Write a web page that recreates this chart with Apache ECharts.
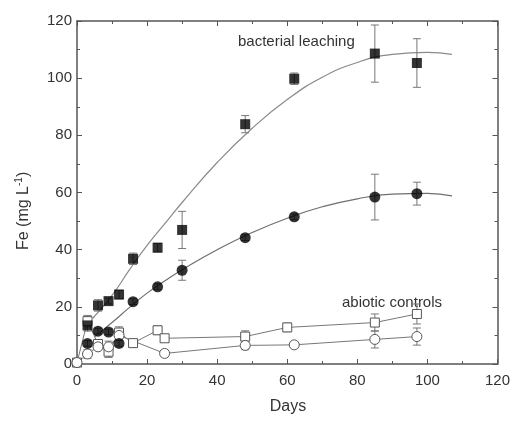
<!DOCTYPE html>
<html>
<head>
<meta charset="utf-8">
<script src="https://cdn.jsdelivr.net/npm/echarts@6/dist/echarts.min.js"></script>
<style>
html,body{margin:0;padding:0;background:#fff;}
#c{width:513px;height:421px;}
</style>
</head>
<body>
<div id="c"></div>
<script>
// ---- data ----
const xTicks = [0, 20, 40, 60, 80, 100, 120];
const yTicks = [0, 20, 40, 60, 80, 100, 120];

// bacterial leaching, filled squares
const bSqDays = [3, 6, 9, 12, 16, 23, 30, 48, 62, 85, 97];
const bSqFe   = [13.5, 20.5, 22, 24.3, 36.8, 40.7, 46.9, 83.9, 99.8, 108.6, 105.3];
const bSqErr  = [2, 2, 1, 1.5, 2, 1.5, 6.5, 3, 2, 10, 8.5];

// bacterial leaching, filled circles
const bCiDays = [3, 6, 9, 12, 16, 23, 30, 48, 62, 85, 97];
const bCiFe   = [7.2, 11.5, 11.2, 7.2, 21.8, 27, 32.8, 44.2, 51.5, 58.4, 59.6];
const bCiErr  = [1, 1, 1, 1, 1, 1, 3.5, 1, 1, 8, 4];

// abiotic controls, open squares
const aSqDays = [0, 3, 6, 9, 12, 16, 23, 25, 48, 60, 85, 97];
const aSqFe   = [0.5, 15, 7, 4.3, 11, 7.3, 11.8, 9, 9.6, 12.8, 14.5, 17.5];
const aSqErr  = [0, 2, 1, 2, 2, 1, 1.5, 1, 2, 1.5, 3, 3.5];

// abiotic controls, open circles
const aCiDays = [0, 3, 6, 9, 12, 25, 48, 62, 85, 97];
const aCiFe   = [0.5, 3.5, 6, 6, 10, 3.7, 6.5, 6.7, 8.6, 9.6];
const aCiErr  = [0, 1.5, 1, 2, 1, 1, 1.5, 1, 3, 3];

// fitted curves
const fitSqDays = [4.5, 10, 15, 20, 25, 30, 40, 50, 60, 70, 80, 90, 100, 107];
const fitSqFe   = [16, 24, 33, 41.5, 49, 56.5, 70.5, 82.5, 92.5, 100.3, 105.5, 108.3, 109, 108.3];
const fitCiDays = [5, 10, 15, 20, 25, 30, 40, 50, 60, 70, 80, 90, 100, 107];
const fitCiFe   = [9.5, 14.5, 19.8, 24.8, 29, 33, 40, 46, 51, 55, 57.8, 59.4, 59.7, 58.8];

const zip = (a, b) => a.map((v, i) => [v, b[i]]);
const zip3 = (a, b, c) => a.map((v, i) => [v, b[i], c[i]]);

function errRender(params, api) {
  const x = api.value(0), y = api.value(1), e = api.value(2);
  if (!e) return null;
  const t = api.coord([x, y + e]);
  const b = api.coord([x, y - e]);
  const w = 4;
  const st = { stroke: '#777', lineWidth: 1 };
  return {
    type: 'group',
    children: [
      { type: 'line', shape: { x1: t[0], y1: t[1], x2: b[0], y2: b[1] }, style: st },
      { type: 'line', shape: { x1: t[0] - w, y1: t[1], x2: t[0] + w, y2: t[1] }, style: st },
      { type: 'line', shape: { x1: b[0] - w, y1: b[1], x2: b[0] + w, y2: b[1] }, style: st }
    ]
  };
}

const FONT = 'Liberation Sans, Arial, sans-serif';
const axisCol = '#555';
const labelStyle = { color: '#333', fontSize: 15, fontFamily: FONT };

function mkAxis(pos, show, margin) {
  return {
    type: 'value', position: pos, min: 0, max: 120, interval: 20,
    axisLine: { show: true, onZero: false, lineStyle: { color: axisCol, width: 1.5 } },
    axisTick: { show: true, inside: true, length: 5, lineStyle: { color: axisCol } },
    minorTick: { show: true, splitNumber: 2, length: 3, lineStyle: { color: axisCol } },
    axisLabel: Object.assign({ show: show, margin: margin }, labelStyle),
    splitLine: { show: false }, minorSplitLine: { show: false }
  };
}

const chart = echarts.init(document.getElementById('c'), null, { renderer: 'canvas' });
chart.setOption({
  animation: false,
  backgroundColor: '#fff',
  grid: { left: 77, right: 15, top: 21, bottom: 57 },
  xAxis: [mkAxis('bottom', true, 9), mkAxis('top', false, 6)],
  yAxis: [mkAxis('left', true, 5), mkAxis('right', false, 6)],
  graphic: [
    { type: 'text', x: 288, y: 407,
      style: { text: 'Days', fontSize: 16, fill: '#333', fontFamily: FONT, align: 'center', verticalAlign: 'middle' } },
    { type: 'text', x: 14, y: 250, rotation: Math.PI / 2,
      style: {
        text: '{a|Fe (mg L}{s|-1}{a|)}',
        rich: {
          a: { fontSize: 16, fill: '#333', fontFamily: FONT },
          s: { fontSize: 10, fill: '#333', fontFamily: FONT, verticalAlign: 'top', padding: [0, 0, 9, 0] }
        }
      } },
    { type: 'text', x: 238, y: 42,
      style: { text: 'bacterial leaching', fontSize: 15, fill: '#333', fontFamily: FONT, verticalAlign: 'middle' } },
    { type: 'text', x: 342, y: 303,
      style: { text: 'abiotic controls', fontSize: 15, fill: '#333', fontFamily: FONT, verticalAlign: 'middle' } }
  ],
  series: [
    { type: 'line', data: zip(fitSqDays, fitSqFe), smooth: 0.5, showSymbol: false,
      lineStyle: { color: '#8a8a8a', width: 1.2 }, z: 1 },
    { type: 'line', data: zip(fitCiDays, fitCiFe), smooth: 0.5, showSymbol: false,
      lineStyle: { color: '#6f6f6f', width: 1.2 }, z: 1 },
    { type: 'custom', renderItem: errRender, data: zip3(bSqDays, bSqFe, bSqErr), z: 2 },
    { type: 'custom', renderItem: errRender, data: zip3(bCiDays, bCiFe, bCiErr), z: 2 },
    { type: 'custom', renderItem: errRender, data: zip3(aSqDays, aSqFe, aSqErr), z: 2 },
    { type: 'custom', renderItem: errRender, data: zip3(aCiDays, aCiFe, aCiErr), z: 2 },
    { type: 'line', data: zip(aSqDays, aSqFe), symbol: 'rect', symbolSize: 9,
      lineStyle: { color: '#777', width: 1 },
      itemStyle: { color: '#fff', borderColor: '#555', borderWidth: 1 }, z: 3 },
    { type: 'line', data: zip(aCiDays, aCiFe), symbol: 'circle', symbolSize: 10,
      lineStyle: { color: '#777', width: 1 },
      itemStyle: { color: '#fff', borderColor: '#555', borderWidth: 1 }, z: 3 },
    { type: 'scatter', data: zip(bSqDays, bSqFe), symbol: 'rect', symbolSize: 10,
      itemStyle: { color: '#000' }, z: 4 },
    { type: 'scatter', data: zip(bCiDays, bCiFe), symbol: 'circle', symbolSize: 11,
      itemStyle: { color: '#000' }, z: 4 }
  ]
});
</script>
</body>
</html>
